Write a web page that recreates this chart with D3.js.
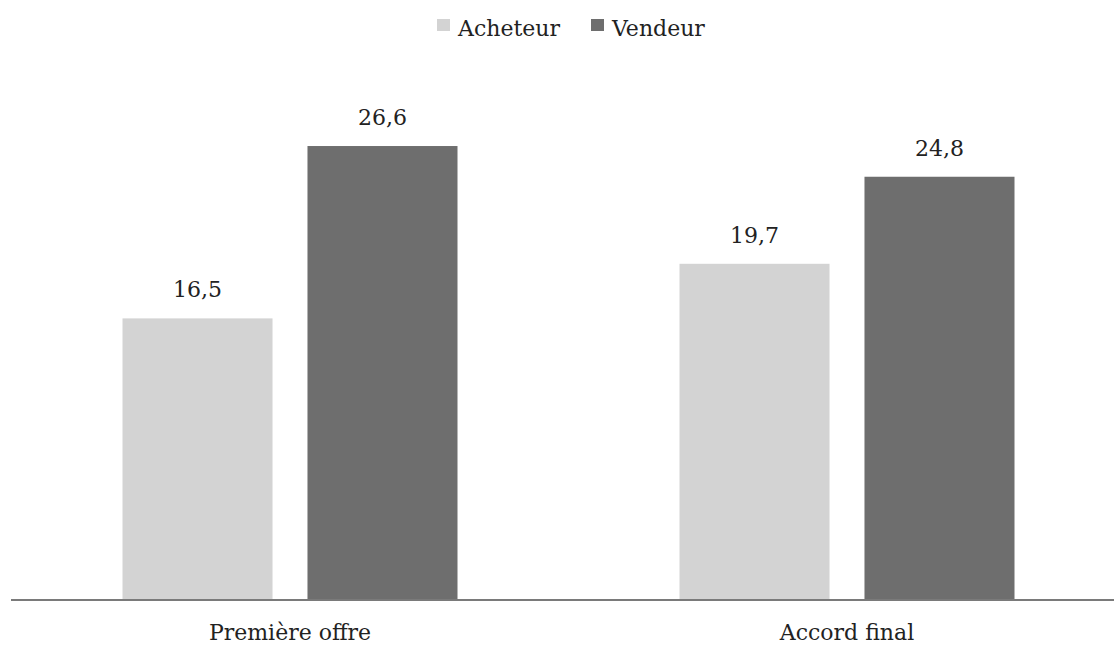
<!DOCTYPE html>
<html>
<head>
<meta charset="utf-8">
<script src="https://cdn.jsdelivr.net/npm/d3@7/dist/d3.min.js"></script>
<style>
  html, body { margin: 0; padding: 0; background: #fff; }
  svg { display: block; }
  text { font-family: "DejaVu Serif", serif; fill: #222; }
</style>
</head>
<body>
<svg id="chart" width="1114" height="646"></svg>
<script>
// Chart data
const categories = ["Première offre", "Accord final"];
const seriesNames = ["Acheteur", "Vendeur"];
const acheteurValues = [16.5, 19.7];
const vendeurValues = [26.6, 24.8];
const seriesColors = ["#d3d3d3", "#6e6e6e"];

const rows = categories.map((c, i) => ({
  category: c,
  values: [
    { series: seriesNames[0], value: acheteurValues[i] },
    { series: seriesNames[1], value: vendeurValues[i] }
  ]
}));

const svg = d3.select("#chart");
const baseY = 600;

const x0 = d3.scaleBand().domain(categories).range([11.5, 1125.5]).padding(0);
const groupW = x0.bandwidth();
const x1 = d3.scaleBand().domain(seriesNames)
  .range([(groupW - 335) / 2, (groupW + 335) / 2])
  .paddingInner(0.189);
const y = d3.scaleLinear().domain([0, 30]).range([baseY, 88]);
const color = d3.scaleOrdinal().domain(seriesNames).range(seriesColors);
const fmt = v => d3.format(".1f")(v).replace(".", ",");

// Bars and value labels
const groups = svg.append("g").selectAll("g")
  .data(rows).join("g")
  .attr("transform", d => `translate(${x0(d.category)},0)`);

groups.selectAll("rect")
  .data(d => d.values).join("rect")
  .attr("x", d => x1(d.series))
  .attr("width", x1.bandwidth())
  .attr("y", d => y(d.value))
  .attr("height", d => baseY - y(d.value))
  .attr("fill", d => color(d.series));

groups.selectAll("text.val")
  .data(d => d.values).join("text")
  .attr("class", "val")
  .attr("x", d => x1(d.series) + x1.bandwidth() / 2)
  .attr("y", d => y(d.value) - 21)
  .attr("text-anchor", "middle")
  .attr("font-size", 22)
  .text(d => fmt(d.value));

// Category axis
const xAxis = svg.append("g")
  .attr("transform", `translate(0,${baseY})`)
  .call(d3.axisBottom(x0).tickSize(0).tickPadding(24));
xAxis.select(".domain").attr("stroke", "#7a7a7a").attr("stroke-width", 2)
  .attr("d", `M11,0H1114`);
xAxis.selectAll(".tick text")
  .attr("font-size", 22)
  .attr("font-family", "DejaVu Serif, serif")
  .attr("fill", "#222");

// Legend
const legendX = [437, 591];
const legend = svg.append("g").selectAll("g")
  .data(seriesNames).join("g")
  .attr("transform", (d, i) => `translate(${legendX[i]},0)`);
legend.append("rect")
  .attr("x", 0).attr("y", 19)
  .attr("width", 13).attr("height", 12)
  .attr("fill", d => color(d));
legend.append("text")
  .attr("x", 21).attr("y", 36)
  .attr("font-size", 22)
  .text(d => d);
</script>
</body>
</html>
